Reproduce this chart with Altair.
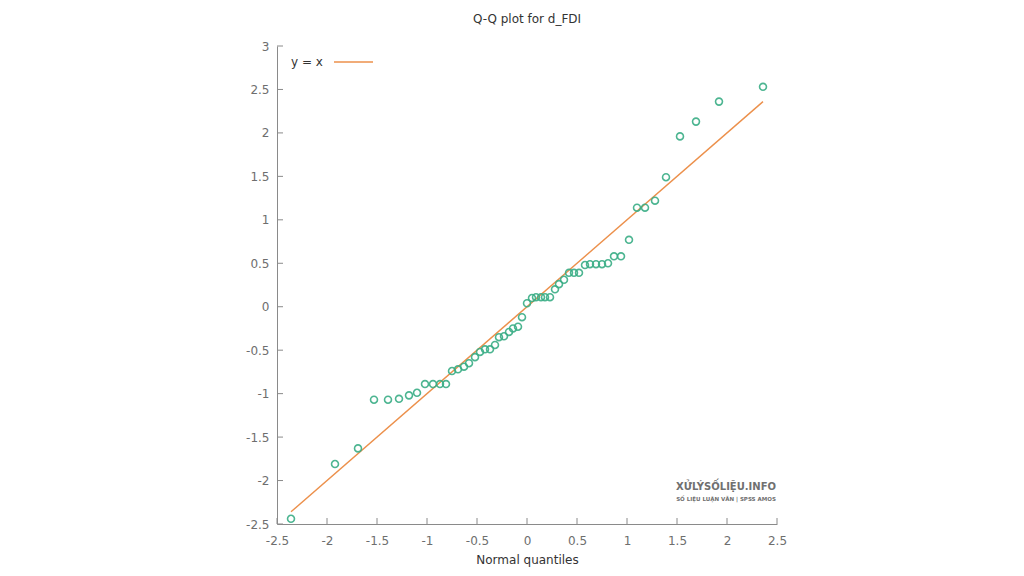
import altair as alt
import pandas as pd

# Theoretical normal quantiles (x) and sample quantiles of d_FDI (y)
qx = [-2.36, -1.92, -1.69, -1.53, -1.39, -1.28, -1.18, -1.10, -1.02, -0.94,
      -0.87, -0.81, -0.75, -0.69, -0.63, -0.58, -0.52, -0.47, -0.42, -0.37,
      -0.32, -0.28, -0.23, -0.18, -0.14, -0.09, -0.05, 0.0, 0.05, 0.09,
      0.14, 0.18, 0.23, 0.28, 0.32, 0.37, 0.42, 0.47, 0.52, 0.58,
      0.63, 0.69, 0.75, 0.81, 0.87, 0.94, 1.02, 1.10, 1.18, 1.28,
      1.39, 1.53, 1.69, 1.92, 2.36]
qy = [-2.44, -1.81, -1.63, -1.07, -1.07, -1.06, -1.02, -0.99, -0.89, -0.89,
      -0.89, -0.89, -0.74, -0.72, -0.69, -0.65, -0.58, -0.52, -0.49, -0.49,
      -0.44, -0.35, -0.34, -0.29, -0.25, -0.23, -0.12, 0.04, 0.10, 0.11,
      0.11, 0.11, 0.11, 0.20, 0.26, 0.31, 0.39, 0.39, 0.39, 0.48,
      0.49, 0.49, 0.49, 0.50, 0.58, 0.58, 0.77, 1.14, 1.14, 1.22,
      1.49, 1.96, 2.13, 2.36, 2.53]
line_x = [-2.36, 2.36]
x_ticks = [-2.5, -2, -1.5, -1, -0.5, 0, 0.5, 1, 1.5, 2, 2.5]
y_ticks = [-2.5, -2, -1.5, -1, -0.5, 0, 0.5, 1, 1.5, 2, 2.5, 3]

W, H = 500, 478
FONT = "DejaVu Sans"
GREEN = "#3aae86"
ORANGE = "#ec904b"
AXIS_GRAY = "#8a8a8a"

pts = pd.DataFrame({"x": qx, "y": qy})
ln = pd.DataFrame({"x": line_x, "y": line_x})
xt = pd.DataFrame({"x": x_ticks})
yt = pd.DataFrame({"y": y_ticks})

xscale = alt.Scale(domain=[-2.5, 2.5], nice=False, zero=False)
yscale = alt.Scale(domain=[-2.5, 3], nice=False, zero=False)
xaxis = alt.Axis(values=x_ticks, labelExpr="'' + datum.value", ticks=False, grid=False,
                 labelFlush=False, labelPadding=11, titlePadding=8, domainColor=AXIS_GRAY)
yaxis = alt.Axis(values=y_ticks, labelExpr="'' + datum.value", ticks=False, grid=False,
                 labelFlush=False, labelPadding=8, domainColor=AXIS_GRAY)
XT = "Normal quantiles"

points = alt.Chart(pts).mark_point(shape="circle", filled=False, size=48,
                                   strokeWidth=1.6, color=GREEN, opacity=0.9).encode(
    x=alt.X("x:Q", scale=xscale, axis=xaxis, title=XT),
    y=alt.Y("y:Q", scale=yscale, axis=yaxis, title=""),
)

line = alt.Chart(ln).mark_line(color=ORANGE, strokeWidth=1.4).encode(
    x=alt.X("x:Q", scale=xscale, axis=xaxis, title=XT),
    y=alt.Y("y:Q", scale=yscale, axis=yaxis, title=""),
)

xticks = alt.Chart(xt).mark_rule(color=AXIS_GRAY, strokeWidth=1).encode(
    x=alt.X("x:Q", scale=xscale, axis=xaxis, title=XT),
    y=alt.value(H), y2=alt.value(H - 6),
)
yticks = alt.Chart(yt).mark_rule(color=AXIS_GRAY, strokeWidth=1).encode(
    y=alt.Y("y:Q", scale=yscale, axis=yaxis, title=""),
    x=alt.value(0), x2=alt.value(6),
)

legend_text = alt.Chart(pd.DataFrame({"t": ["y = x"]})).mark_text(
    align="left", baseline="middle", font=FONT, fontSize=12, color="#333333").encode(
    text="t:N", x=alt.value(14), y=alt.value(16))
legend_line = alt.Chart(pd.DataFrame({"t": ["y = x"]})).mark_rule(
    color=ORANGE, strokeWidth=1.4).encode(
    x=alt.value(57), x2=alt.value(96), y=alt.value(16))

wm1 = alt.Chart(pd.DataFrame({"t": ["XỬLÝSỐLIỆU.INFO"]})).mark_text(
    align="center", baseline="middle", font=FONT, fontSize=10, fontWeight="bold",
    color="#707070").encode(text="t:N", x=alt.value(449), y=alt.value(441))
wm2 = alt.Chart(pd.DataFrame({"t": ["SỐ LIỆU LUẬN VĂN | SPSS AMOS"]})).mark_text(
    align="center", baseline="middle", font=FONT, fontSize=5.5, fontWeight="bold",
    color="#707070").encode(text="t:N", x=alt.value(449), y=alt.value(453))

chart = alt.layer(line, points, xticks, yticks, legend_line, legend_text, wm1, wm2).properties(
    width=W, height=H,
    title=alt.TitleParams("Q-Q plot for d_FDI", font=FONT, fontSize=12,
                          fontWeight="normal", color="#333333", offset=14),
    autosize=alt.AutoSizeParams(type="none"),
    padding={"left": 269, "top": 38, "right": 239, "bottom": 44},
).configure_view(stroke=None).configure_axis(
    labelFont=FONT, labelFontSize=12, labelColor="#6e6e6e",
    titleFont=FONT, titleFontSize=12, titleFontWeight="normal", titleColor="#333333",
    domainWidth=1,
)

chart.save("out.html", embed_options={"renderer": "svg", "actions": False})
